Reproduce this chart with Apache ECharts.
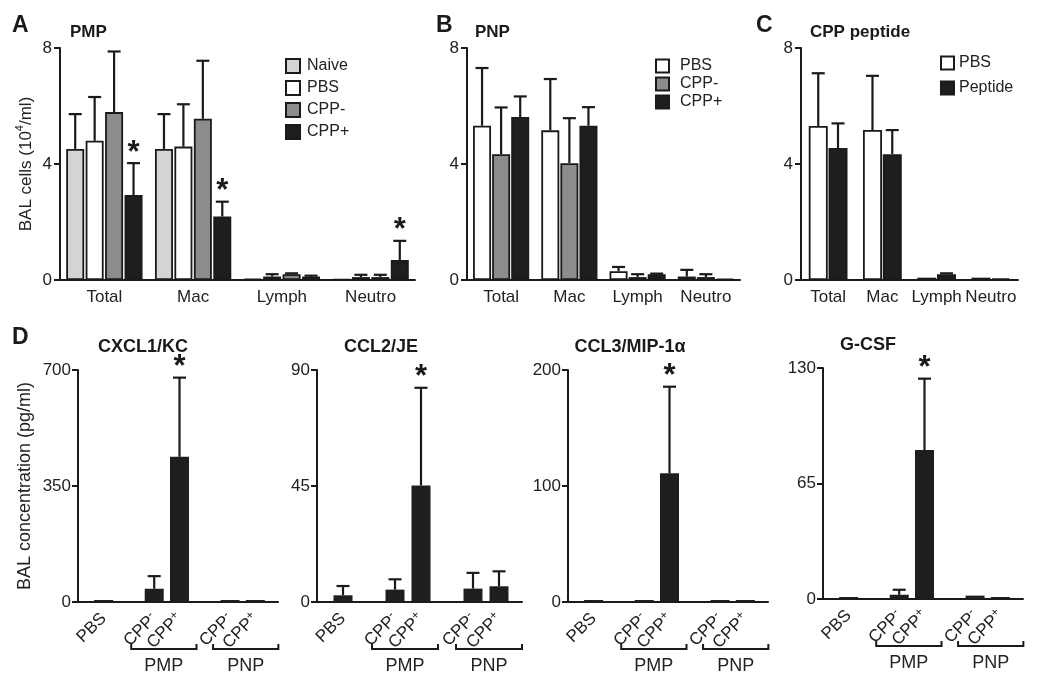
<!DOCTYPE html>
<html><head><meta charset="utf-8">
<script src="https://cdn.jsdelivr.net/npm/echarts@6/dist/echarts.min.js"></script>
<style>html,body{margin:0;padding:0;background:#fff}#c{width:1050px;height:689px}</style>
</head><body><div id="c"></div>
<script>
// ---------- DATA ----------
const cellTypes = ['Total', 'Mac', 'Lymph', 'Neutro'];
const cellAxisMax = 8, cellAxisStep = 4;

// Panel A (PMP)
const pmpNaive = [4.52, 4.52, 0.05, 0.02];
const pmpNaiveErr = [1.20, 1.20, 0.00, 0.00];
const pmpPBS = [4.80, 4.60, 0.12, 0.10];
const pmpPBSErr = [1.51, 1.46, 0.08, 0.08];
const pmpCPPneg = [5.79, 5.56, 0.20, 0.10];
const pmpCPPnegErr = [2.09, 2.00, 0.03, 0.08];
const pmpCPPpos = [2.93, 2.19, 0.12, 0.69];
const pmpCPPposErr = [1.10, 0.51, 0.03, 0.66];
const pmpCPPposStar = [1, 1, 0, 1];

// Panel B (PNP)
const pnpPBS = [5.32, 5.16, 0.30, 0.12];
const pnpPBSErr = [1.99, 1.77, 0.15, 0.23];
const pnpCPPneg = [4.34, 4.03, 0.10, 0.10];
const pnpCPPnegErr = [1.61, 1.55, 0.10, 0.10];
const pnpCPPpos = [5.62, 5.32, 0.20, 0.05];
const pnpCPPposErr = [0.71, 0.64, 0.02, 0.00];

// Panel C (CPP peptide)
const pepPBS = [5.31, 5.17, 0.08, 0.08];
const pepPBSErr = [1.82, 1.87, 0.00, 0.00];
const pepPeptide = [4.55, 4.34, 0.20, 0.06];
const pepPeptideErr = [0.85, 0.83, 0.03, 0.00];

// Panel D (cytokines)
const cytoCategories = ['PBS', '', 'CPP-', 'CPP+', '', 'CPP-', 'CPP+'];
const cytoGroups = ['PMP', 'PNP'];
const cytoGroupSpans = [[2, 3], [5, 6]];
const cytoNames = ['CXCL1/KC', 'CCL2/JE', 'CCL3/MIP-1\u03b1', 'G-CSF'];
const cytoMax = [700, 90, 200, 130];
const cxcl1 = [4, null, 40, 438, null, 5, 5];
const cxcl1Err = [0, null, 38, 239, null, 0, 0];
const ccl2 = [2.6, null, 4.8, 45.2, null, 5.2, 6.1];
const ccl2Err = [3.6, null, 4.0, 37.9, null, 6.1, 5.8];
const ccl3 = [0.4, null, 0.4, 111, null, 0.4, 0.4];
const ccl3Err = [0, null, 0, 74.6, null, 0, 0];
const gcsf = [1.0, null, 2.4, 83.8, null, 1.9, 1.1];
const gcsfErr = [0, null, 2.8, 40.2, null, 0, 0];
const cytoStar = [0, 0, 0, 1, 0, 0, 0];

// ---------- STYLE / LAYOUT ----------
const FONT = '"Liberation Sans", Arial, Helvetica, sans-serif';
const INK = '#1a1a1a';
const TXT = '#222';
const C_NAIVE = '#d4d4d4', C_PBS = '#ffffff', C_NEG = '#8c8c8c', C_POS = '#1e1e1e';

const grids = [], xAxes = [], yAxes = [], series = [];

function makeErr(pitch, n) {
  return function (params, api) {
    const cat = api.value(0), val = api.value(1), err = api.value(2), slot = api.value(3), star = api.value(4);
    const base = api.coord([cat, val]);
    const top = api.coord([cat, val + err]);
    const x = base[0] + (slot - (n - 1) / 2) * pitch;
    const children = [];
    if (err > 0) {
      children.push({type: 'line', shape: {x1: x, y1: base[1], x2: x, y2: top[1]}, style: {stroke: INK, lineWidth: 2.2}});
      children.push({type: 'line', shape: {x1: x - 6.5, y1: top[1], x2: x + 6.5, y2: top[1]}, style: {stroke: INK, lineWidth: 2.2}});
    }
    if (star) {
      children.push({type: 'text', style: {text: '*', x: x, y: top[1] - 10, align: 'center', verticalAlign: 'middle',
        fontSize: 31, fontWeight: 'bold', fontFamily: FONT, fill: INK}});
    }
    return {type: 'group', children: children};
  };
}

const axisLineStyle = {show: true, lineStyle: {color: INK, width: 2}};
const yTick = {show: true, length: 6, lineStyle: {color: INK, width: 2}};

function addCellPanel(rect, groups, barWidth, gap, yName) {
  const gi = grids.length;
  grids.push({left: rect[0], top: rect[1], width: rect[2], height: rect[3], containLabel: false, outerBoundsMode: 'none'});
  xAxes.push({gridIndex: gi, type: 'category', data: cellTypes, axisLine: axisLineStyle, axisTick: {show: false},
    axisLabel: {fontSize: 17, color: TXT, fontFamily: FONT, margin: 9, interval: 0, hideOverlap: false}});
  const ya = {gridIndex: gi, type: 'value', min: 0, max: cellAxisMax, interval: cellAxisStep,
    axisLine: axisLineStyle, axisTick: yTick, splitLine: {show: false},
    axisLabel: {fontSize: 17, color: TXT, fontFamily: FONT, margin: 8}};
  if (yName) {
    Object.assign(ya, {name: yName, nameLocation: 'middle', nameGap: 19, nameRotate: 90,
      nameTextStyle: {fontSize: 17, color: TXT, fontFamily: FONT, lineHeight: 24,
        rich: {sup: {fontSize: 11, lineHeight: 11, verticalAlign: 'top', fontFamily: FONT, color: TXT}}}});
  }
  yAxes.push(ya);
  const pitch = barWidth * (1 + gap);
  groups.forEach(function (g) {
    series.push({type: 'bar', name: g.name, xAxisIndex: gi, yAxisIndex: gi, data: g.values,
      barWidth: barWidth, barGap: (gap * 100) + '%',
      itemStyle: {color: g.color, borderColor: INK, borderWidth: 1.8}});
  });
  groups.forEach(function (g, slot) {
    series.push({type: 'custom', xAxisIndex: gi, yAxisIndex: gi, silent: true, z: 3,
      renderItem: makeErr(pitch, groups.length),
      data: g.values.map(function (v, i) { return [i, v, g.err[i], slot, g.star ? g.star[i] : 0]; })});
  });
}

function addCytoPanel(frame, k, values, errs) {
  const gf = grids.length;
  grids.push({left: frame[0], top: frame[1], width: frame[2], height: frame[3], containLabel: false, outerBoundsMode: 'none'});
  xAxes.push({gridIndex: gf, type: 'category', data: [''], axisLine: axisLineStyle, axisTick: {show: false}, axisLabel: {show: false}});
  const ya = {gridIndex: gf, type: 'value', min: 0, max: cytoMax[k], interval: cytoMax[k] / 2,
    axisLine: axisLineStyle, axisTick: yTick, splitLine: {show: false},
    axisLabel: {fontSize: 17, color: TXT, fontFamily: FONT, margin: 7}};
  if (k === 0) {
    Object.assign(ya, {name: 'BAL concentration (pg/ml)', nameLocation: 'middle', nameGap: 44, nameRotate: 90,
      nameTextStyle: {fontSize: 18, color: TXT, fontFamily: FONT}});
  }
  yAxes.push(ya);
  const gb = grids.length;
  const inset = 13;
  grids.push({left: frame[0] + inset, top: frame[1], width: frame[2] - inset - 10, height: frame[3], containLabel: false, outerBoundsMode: 'none'});
  xAxes.push({gridIndex: gb, type: 'category', data: cytoCategories, axisLine: {show: false}, axisTick: {show: false},
    axisLabel: {rotate: 45, interval: 0, hideOverlap: false, fontSize: 17, color: TXT, fontFamily: FONT, margin: 14, lineHeight: 20,
      formatter: function (v) { return v.replace(/([+-])$/, '{s|$1}'); },
      rich: {s: {fontSize: 12, lineHeight: 10, verticalAlign: 'top', fontFamily: FONT, color: TXT}}}});
  yAxes.push({gridIndex: gb, type: 'value', min: 0, max: cytoMax[k], show: false});
  series.push({type: 'bar', name: cytoNames[k], xAxisIndex: gb, yAxisIndex: gb,
    data: values.map(function (v) { return v == null ? '-' : v; }),
    barWidth: 19, barMinHeight: 2, itemStyle: {color: C_POS}});
  series.push({type: 'custom', xAxisIndex: gb, yAxisIndex: gb, silent: true, z: 3, renderItem: makeErr(0, 1),
    data: values.map(function (v, i) { return v == null ? null : [i, v, errs[i], 0, cytoStar[i]]; })
      .filter(function (d) { return d; })});
  return gb;
}

// Panels A-C
addCellPanel([60, 48, 355, 232], [
  {name: 'Naive', values: pmpNaive, err: pmpNaiveErr, color: C_NAIVE},
  {name: 'PBS', values: pmpPBS, err: pmpPBSErr, color: C_PBS},
  {name: 'CPP-', values: pmpCPPneg, err: pmpCPPnegErr, color: C_NEG},
  {name: 'CPP+', values: pmpCPPpos, err: pmpCPPposErr, color: C_POS, star: pmpCPPposStar}
], 18, 0.08, 'BAL cells (10{sup|4}/ml)');

addCellPanel([467, 48, 273, 232], [
  {name: 'PBS', values: pnpPBS, err: pnpPBSErr, color: C_PBS},
  {name: 'CPP-', values: pnpCPPneg, err: pnpCPPnegErr, color: C_NEG},
  {name: 'CPP+', values: pnpCPPpos, err: pnpCPPposErr, color: C_POS}
], 18, 0.06, null);

addCellPanel([801, 48, 217, 232], [
  {name: 'PBS', values: pepPBS, err: pepPBSErr, color: C_PBS},
  {name: 'Peptide', values: pepPeptide, err: pepPeptideErr, color: C_POS}
], 19, 0.04, null);

// Panel D
const cytoValues = [cxcl1, ccl2, ccl3, gcsf];
const cytoErrs = [cxcl1Err, ccl2Err, ccl3Err, gcsfErr];
const cytoFrames = [[78, 370, 200, 232], [317, 370, 205, 232], [568, 370, 200, 232], [823, 368, 200, 231]];
const cytoTitleX = [143, 381, 630, 868];
const bracketPad = [[23, 17], [17, 23]];
const barsAxisIdx = [];
for (let k = 0; k < 4; k++) barsAxisIdx.push(addCytoPanel(cytoFrames[k], k, cytoValues[k], cytoErrs[k]));

const legendText = {fontSize: 16, color: TXT, fontFamily: FONT};
const titleBold = function (t, x, y, size, align) {
  const o = {text: t, left: x, top: y, padding: 0, textStyle: {fontSize: size, fontWeight: 'bold', color: INK, fontFamily: FONT}};
  if (align) o.textAlign = align;
  return o;
};

const titles = [
  titleBold('A', 12, 14, 23), titleBold('PMP', 70, 24, 17),
  titleBold('B', 436, 14, 23), titleBold('PNP', 475, 24, 17),
  titleBold('C', 756, 14, 23), titleBold('CPP peptide', 810, 24, 17),
  titleBold('D', 12, 326, 23)
];
cytoNames.forEach(function (n, k) { titles.push(titleBold(n, cytoTitleX[k], cytoFrames[k][1] - 32, 18, 'center')); });

const option = {
  backgroundColor: '#fff',
  animation: false,
  title: titles,
  legend: [
    {data: ['Naive', 'PBS', 'CPP-', 'CPP+'], orient: 'vertical', left: 285, top: 58, itemWidth: 14, itemHeight: 14,
      itemGap: 6, icon: 'rect', textStyle: Object.assign({padding: [0, 0, 0, 2]}, legendText), padding: 0, selectedMode: false},
    {data: ['PBS', 'CPP-', 'CPP+'], orient: 'vertical', left: 655, top: 58, itemWidth: 13, itemHeight: 13,
      itemGap: 2, icon: 'rect', textStyle: Object.assign({padding: [0, 0, 0, 6]}, legendText), padding: 0, selectedMode: false},
    {data: ['PBS', 'Peptide'], orient: 'vertical', left: 940, top: 55, itemWidth: 13, itemHeight: 13,
      itemGap: 9, icon: 'rect', textStyle: legendText, padding: 0, selectedMode: false}
  ],
  grid: grids,
  xAxis: xAxes,
  yAxis: yAxes,
  series: series
};

const chart = echarts.init(document.getElementById('c'), null, {renderer: 'canvas'});
chart.setOption(option);

// Group brackets under the cytokine panels, positioned through the axes
const gfx = [];
for (let k = 0; k < 4; k++) {
  const ax = barsAxisIdx[k];
  const yBase = chart.convertToPixel({yAxisIndex: ax}, 0);
  const y = yBase + 47;
  cytoGroupSpans.forEach(function (span, gi) {
    const x0 = chart.convertToPixel({xAxisIndex: ax}, span[0]) - bracketPad[gi][0];
    const x1 = chart.convertToPixel({xAxisIndex: ax}, span[1]) + bracketPad[gi][1];
    gfx.push({type: 'polyline', silent: true, shape: {points: [[x0, y - 5], [x0, y], [x1, y], [x1, y - 5]]},
      style: {stroke: INK, lineWidth: 2, fill: null}});
    gfx.push({type: 'text', silent: true, x: (x0 + x1) / 2, y: y + 17,
      style: {text: cytoGroups[gi], align: 'center', verticalAlign: 'middle', fontSize: 18, fontFamily: FONT, fill: TXT}});
  });
}
chart.setOption({graphic: gfx});
</script>
</body></html>
